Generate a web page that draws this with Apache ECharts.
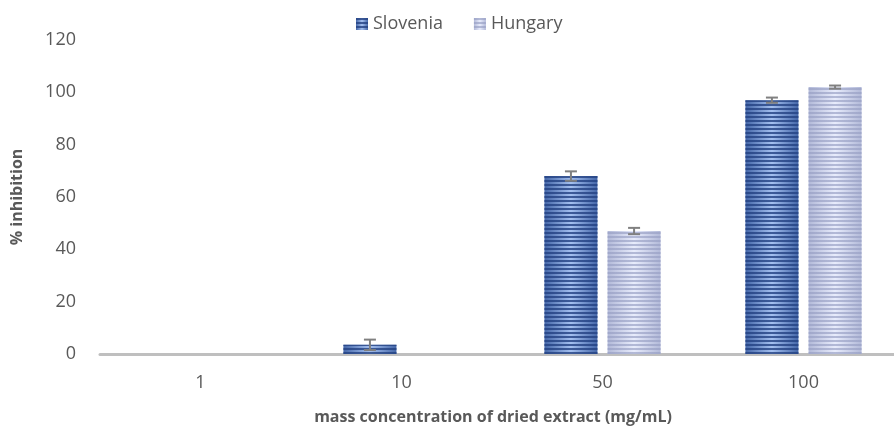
<!DOCTYPE html>
<html>
<head>
<meta charset="utf-8">
<script src="https://cdn.jsdelivr.net/npm/echarts@6/dist/echarts.min.js"></script>
<style>
  html, body { margin: 0; padding: 0; background: #fff; }
  #chart { width: 894px; height: 432px; }
</style>
</head>
<body>
<div id="chart"></div>
<script>
// data
var categories = ['1', '10', '50', '100'];
var slovenia = [0, 3.5, 68, 97];
var sloveniaErr = [0, 2, 1.8, 1];
var hungary = [0, 0, 47, 102];
var hungaryErr = [0, 0, 1.2, 0.6];

var BAR_W = 0.264;  // bar width as share of the band
var BAR_GAP = 0.19; // gap as share of bar width

var myChart = echarts.init(document.getElementById('chart'));

// horizontal stripes on top of the bar colour
function stripes(color) {
  return {
    symbol: 'rect',
    symbolSize: 1,
    color: color,
    dashArrayX: [1, 0],
    dashArrayY: [2, 2],
    rotation: 0
  };
}

// error bars drawn on top of the bars
function errorSeries(values, errs, side) {
  return {
    type: 'custom',
    z: 10,
    silent: true,
    data: values.map(function (v, i) { return [i, v, errs[i]]; }),
    renderItem: function (params, api) {
      var e = api.value(2);
      if (!e) return null;
      var band = api.size([1, 0])[0];
      var bw = band * BAR_W;
      var off = side * (bw + bw * BAR_GAP) / 2;
      var top = api.coord([api.value(0), api.value(1) + e]);
      var bot = api.coord([api.value(0), api.value(1) - e]);
      var x = top[0] + off;
      var cap = 6;
      var style = { stroke: '#808080', lineWidth: 2 };
      return {
        type: 'group',
        children: [
          { type: 'line', shape: { x1: x, y1: top[1], x2: x, y2: bot[1] }, style: style },
          { type: 'line', shape: { x1: x - cap, y1: top[1], x2: x + cap, y2: top[1] }, style: style },
          { type: 'line', shape: { x1: x - cap, y1: bot[1], x2: x + cap, y2: bot[1] }, style: style }
        ]
      };
    }
  };
}

var option = {
  animation: false,
  textStyle: { fontFamily: 'Open Sans' },
  legend: {
    top: 10,
    left: 351,
    icon: 'rect',
    itemWidth: 12,
    itemHeight: 12,
    itemGap: 31,
    textStyle: { fontSize: 18, color: '#595959', fontFamily: 'Open Sans' },
    data: ['Slovenia', 'Hungary']
  },
  // the original plot is cut off on the right, so the grid runs past the edge
  grid: { left: 100, width: 804, top: 40, bottom: 78, outerBoundsMode: 'none' },
  xAxis: {
    type: 'category',
    data: categories,
    axisTick: { show: false },
    axisLine: { lineStyle: { color: '#bfbfbf', width: 3 } },
    axisLabel: { fontSize: 18, color: '#595959', margin: 20 },
    name: 'mass concentration of dried extract (mg/mL)',
    nameLocation: 'middle',
    nameGap: 55,
    nameTextStyle: { fontSize: 16, fontWeight: 'bold', color: '#595959', padding: [0, 18, 0, 0] }
  },
  yAxis: {
    type: 'value',
    min: 0,
    max: 120,
    interval: 20,
    splitLine: { show: false },
    axisLine: { show: false },
    axisTick: { show: false },
    axisLabel: { fontSize: 18, color: '#595959', margin: 24 },
    name: '% inhibition',
    nameLocation: 'middle',
    nameGap: 75,
    nameTextStyle: { fontSize: 16, fontWeight: 'bold', color: '#595959' }
  },
  series: [
    {
      name: 'Slovenia',
      type: 'bar',
      barWidth: (BAR_W * 100) + '%',
      barGap: (BAR_GAP * 100) + '%',
      data: slovenia,
      itemStyle: {
        color: new echarts.graphic.LinearGradient(0, 0, 1, 0, [
          { offset: 0, color: '#4466a8' },
          { offset: 0.5, color: '#a4c0f0' },
          { offset: 1, color: '#4466a8' }
        ]),
        decal: stripes('rgba(35,65,130,0.8)')
      }
    },
    {
      name: 'Hungary',
      type: 'bar',
      barWidth: (BAR_W * 100) + '%',
      data: hungary,
      itemStyle: {
        color: new echarts.graphic.LinearGradient(0, 0, 1, 0, [
          { offset: 0, color: '#b2b9d8' },
          { offset: 0.5, color: '#e8ecfc' },
          { offset: 1, color: '#b2b9d8' }
        ]),
        decal: stripes('rgba(150,158,195,0.65)')
      }
    },
    errorSeries(slovenia, sloveniaErr, -1),
    errorSeries(hungary, hungaryErr, 1)
  ]
};

myChart.setOption(option);
</script>
</body>
</html>
